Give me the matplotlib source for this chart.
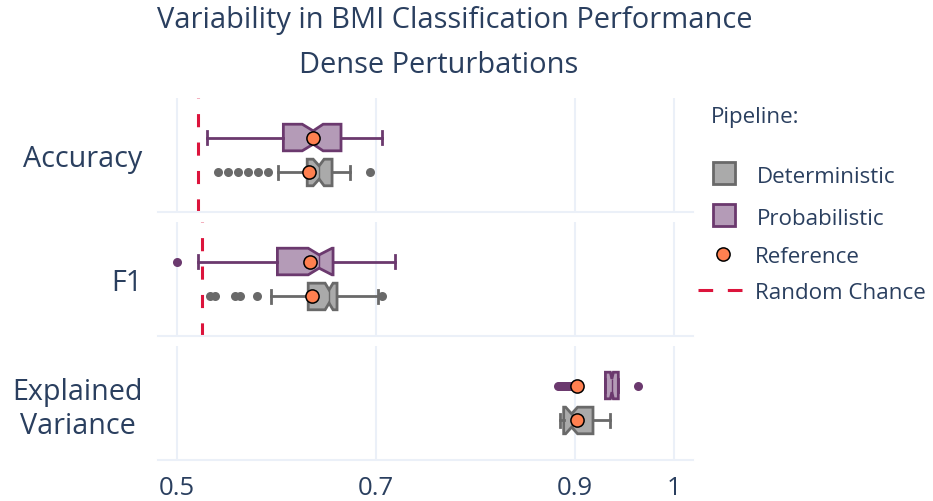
import matplotlib
matplotlib.use("Agg")
import matplotlib.pyplot as plt
from matplotlib.patches import Rectangle
from matplotlib.lines import Line2D

plt.rcParams['font.family'] = ['Open Sans', 'DejaVu Sans']

# ---------------- data ----------------
metrics = ["Accuracy", "F1", "Explained\nVariance"]
x_ticks = [0.5, 0.7, 0.9, 1.0]
x_tick_labels = ["0.5", "0.7", "0.9", "1"]

det_q1 = [0.631, 0.632, 0.889]
det_med = [0.643, 0.653, 0.897]
det_q3 = [0.656, 0.661, 0.9185]
det_lo = [0.602, 0.595, 0.885]
det_hi = [0.674, 0.702, 0.936]
det_notch_lo = [0.637, 0.649, 0.891]
det_notch_hi = [0.648, 0.657, 0.903]
det_fliers = [[0.541, 0.551, 0.561, 0.571, 0.581, 0.592, 0.694],
              [0.533, 0.538, 0.558, 0.563, 0.580, 0.706],
              []]

prob_q1 = [0.607, 0.601, 0.931]
prob_med = [0.637, 0.643, 0.9375]
prob_q3 = [0.665, 0.657, 0.944]
prob_lo = [0.5305, 0.5215, 0.931]
prob_hi = [0.706, 0.719, 0.944]
prob_notch_lo = [0.626, 0.632, 0.936]
prob_notch_hi = [0.647, 0.656, 0.939]
prob_fliers = [[],
               [0.500],
               [0.883, 0.885, 0.887, 0.889, 0.891, 0.893, 0.895, 0.897, 0.964]]

ref_det = [0.633, 0.636, 0.902]
ref_prob = [0.637, 0.634, 0.902]
random_chance = [0.521, 0.525, None]

legend_labels = ["Deterministic", "Probabilistic", "Reference", "Random Chance"]

# ---------------- style ----------------
TXT = '#2a3f5f'
GRID = '#ebf0f8'
DET_EDGE, DET_FILL = '#696969', '#aaaaaa'
PROB_EDGE, PROB_FILL = '#6b396e', '#b49bb7'
REF = '#ff8050'
RAND = '#dc143c'

W, H = 933, 502
fig = plt.figure(figsize=(W / 100, H / 100), dpi=100)
renderer = fig.canvas.get_renderer()


def fitted_size(s, target_px, base=20):
    t = fig.text(0, 0, s, fontsize=base)
    w = t.get_window_extent(renderer).width
    t.remove()
    return base * target_px / w


fs_title = fitted_size("Variability in BMI Classification Performance", 594)
fs_ytick = fitted_size("Accuracy", 119)
fs_xtick = fitted_size("0.5", 36)
fs_leg = fitted_size("Deterministic", 139)

left_px, right_px = 158, 693
panels_px = [(99, 213), (223, 337), (347, 461)]
xlim = (0.5 - 19 / 994, 1.0 + 19 / 994)
pos_prob, pos_det, bw = 0.46, -0.46, 0.70

axes = []
for i, (top, bot) in enumerate(panels_px):
    ax = fig.add_axes([left_px / W, 1 - bot / H, (right_px - left_px) / W, (bot - top) / H])
    axes.append(ax)

    groups = [
        (pos_prob, PROB_EDGE, PROB_FILL,
         dict(med=prob_med[i], q1=prob_q1[i], q3=prob_q3[i], whislo=prob_lo[i], whishi=prob_hi[i],
              cilo=prob_notch_lo[i], cihi=prob_notch_hi[i], fliers=prob_fliers[i]), ref_prob[i]),
        (pos_det, DET_EDGE, DET_FILL,
         dict(med=det_med[i], q1=det_q1[i], q3=det_q3[i], whislo=det_lo[i], whishi=det_hi[i],
              cilo=det_notch_lo[i], cihi=det_notch_hi[i], fliers=det_fliers[i]), ref_det[i]),
    ]
    if random_chance[i] is not None:
        ax.axvline(random_chance[i], color=RAND, linewidth=2.2, dashes=(4.3, 5.0), zorder=1.5)
    for pos, ec, fc, st, ref in groups:
        ax.bxp([st], positions=[pos], widths=[bw], orientation='horizontal',
               patch_artist=True, shownotches=True, manage_ticks=False,
               boxprops=dict(facecolor=fc, edgecolor=ec, linewidth=2.0),
               whiskerprops=dict(color=ec, linewidth=2.0),
               capprops=dict(color=ec, linewidth=2.0),
               medianprops=dict(color=ec, linewidth=1.0),
               flierprops=dict(marker='o', markerfacecolor=ec, markeredgecolor=ec,
                               markersize=6.5, markeredgewidth=0),
               zorder=3)
        ax.plot([ref], [pos], 'o', markersize=9.5, markerfacecolor=REF,
                markeredgecolor='black', markeredgewidth=1.1, zorder=6)

    ax.set_xlim(*xlim)
    ax.set_ylim(-1.5, 1.5)
    for sp in ['top', 'right', 'left']:
        ax.spines[sp].set_visible(False)
    ax.spines['bottom'].set_color(GRID)
    ax.spines['bottom'].set_linewidth(1.5)
    ax.set_xticks(x_ticks)
    ax.grid(axis='x', color=GRID, linewidth=1.5, zorder=0)
    ax.set_axisbelow(True)
    ax.set_yticks([0])
    ax.set_yticklabels([metrics[i]], fontsize=fs_ytick, color=TXT, multialignment='center')
    ax.tick_params(axis='y', length=0, pad=11)
    ax.tick_params(axis='x', length=0, pad=11, labelsize=fs_xtick, labelcolor=TXT)
    if i < 2:
        ax.set_xticklabels([])
    else:
        ax.set_xticklabels(x_tick_labels)

# ---------------- titles & legend overlay ----------------
ov = fig.add_axes([0, 0, 1, 1])
ov.set_xlim(0, W)
ov.set_ylim(H, 0)
ov.axis('off')

ov.text(455, 28, "Variability in BMI Classification Performance", fontsize=fs_title,
        color=TXT, ha='center', va='baseline')
ov.text(439, 73, "Dense Perturbations", fontsize=fs_title, color=TXT, ha='center', va='baseline')

ov.text(711, 123, "Pipeline:", fontsize=fs_leg, color=TXT, ha='left', va='baseline')
ov.add_patch(Rectangle((713, 163), 22, 22, facecolor=DET_FILL, edgecolor=DET_EDGE, linewidth=2.0))
ov.text(757, 183, legend_labels[0], fontsize=fs_leg, color=TXT, ha='left', va='baseline')
ov.add_patch(Rectangle((713, 205), 22, 22, facecolor=PROB_FILL, edgecolor=PROB_EDGE, linewidth=2.0))
ov.text(757, 225, legend_labels[1], fontsize=fs_leg, color=TXT, ha='left', va='baseline')
ov.add_artist(Line2D([723], [255], marker='o', markersize=9.5, markerfacecolor=REF,
                     markeredgecolor='black', markeredgewidth=1.1, linestyle='none'))
ov.text(755, 263, legend_labels[2], fontsize=fs_leg, color=TXT, ha='left', va='baseline')
ov.add_artist(Line2D([698, 742], [291, 291], color=RAND, linewidth=2.2, dashes=(4.8, 4.8)))
ov.text(755, 299, legend_labels[3], fontsize=fs_leg, color=TXT, ha='left', va='baseline')

fig.savefig("out.png", dpi=100)
